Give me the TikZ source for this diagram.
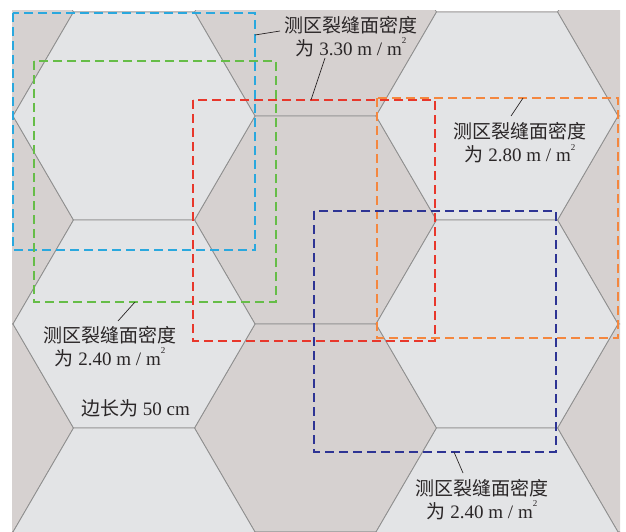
\documentclass[tikz,border=0pt]{standalone}
\usepackage{fontspec}
\setmainfont{Liberation Serif}
\newfontfamily\cjk{Noto Sans CJK SC}
\definecolor{bggray}{HTML}{D6D1D0}
\definecolor{hexfill}{HTML}{E3E4E6}
\definecolor{edgegray}{HTML}{8E8E8E}
\definecolor{textgray}{HTML}{2A2627}
\definecolor{zcyan}{HTML}{2AA8DE}
\definecolor{zgreen}{HTML}{66BD48}
\definecolor{zred}{HTML}{E8372B}
\definecolor{zorange}{HTML}{F4873F}
\definecolor{zblue}{HTML}{2E3494}
\newcommand\mysq{\raisebox{0.62em}{\fontsize{9}{9}\selectfont 2}}
\begin{document}
\begin{tikzpicture}[x=1pt,y=-1pt,
  hexlight/.style={fill=hexfill, draw=edgegray, line width=0.8pt},
  hexdark/.style={fill=bggray, draw=edgegray, line width=0.8pt},
  zone/.style={dash pattern=on 9pt off 5pt, line width=1.8pt},
  lbl/.style={font=\fontsize{19}{23}\selectfont, align=center, text=textgray, inner sep=0pt},
  leader/.style={draw=textgray, line width=0.7pt}]
\useasboundingbox (0,0) rectangle (626,532);
\begin{scope}
  \clip (12,11) rectangle (620,532);
  \fill[bggray] (12,11) rectangle (620,532);
  \foreach \cx/\cy in {-47.5/12,-47.5/220,-47.5/428,-47.5/636,315.5/12,315.5/220,315.5/428,315.5/636,678.5/12,678.5/220,678.5/428,678.5/636}{
    \draw[hexdark] ({\cx-121},\cy) -- ({\cx-60.5},{\cy-104}) -- ({\cx+60.5},{\cy-104}) -- ({\cx+121},\cy) -- ({\cx+60.5},{\cy+104}) -- ({\cx-60.5},{\cy+104}) -- cycle;
  }
  \foreach \cx/\cy in {134/116,134/324,134/532,497/116,497/324,497/532}{
    \draw[hexlight] ({\cx-121},\cy) -- ({\cx-60.5},{\cy-104}) -- ({\cx+60.5},{\cy-104}) -- ({\cx+121},\cy) -- ({\cx+60.5},{\cy+104}) -- ({\cx-60.5},{\cy+104}) -- cycle;
  }
\end{scope}
% measuring zones
\draw[zone, zcyan] (13,13) rectangle (255,250);
\draw[zone, zgreen] (34,61) rectangle (276,302);
\draw[zone, zred] (193,100) rectangle (435,341);
\draw[zone, zorange] (377,98) rectangle (618,338);
\draw[zone, zblue] (314,211) rectangle (556,452);
% labels
\node[lbl] (t330) at (351,36.5) {{\cjk 测区裂缝面密度}\\{\cjk 为} 3.30 m / m\mysq};
\node[lbl] (t280) at (520,143) {{\cjk 测区裂缝面密度}\\{\cjk 为} 2.80 m / m\mysq};
\node[lbl] (t240a) at (110,346.5) {{\cjk 测区裂缝面密度}\\{\cjk 为} 2.40 m / m\mysq};
\node[lbl] (side) at (135.5,408) {{\cjk 边长为} 50 cm};
\node[lbl] (t240b) at (482,499.5) {{\cjk 测区裂缝面密度}\\{\cjk 为} 2.40 m / m\mysq};
% leader ends
\coordinate (a1) at (280,31);  \coordinate (b1) at (255,35);
\coordinate (a2) at (325,58);  \coordinate (b2) at (311,100);
\coordinate (a3) at (511,116); \coordinate (b3) at (523,98);
\coordinate (a4) at (118,321); \coordinate (b4) at (135,302);
\coordinate (a5) at (463,473); \coordinate (b5) at (454,452);
\draw[leader] (a1) -- (b1);
\draw[leader] (a2) -- (b2);
\draw[leader] (a3) -- (b3);
\draw[leader] (a4) -- (b4);
\draw[leader] (a5) -- (b5);
\end{tikzpicture}
\end{document}
